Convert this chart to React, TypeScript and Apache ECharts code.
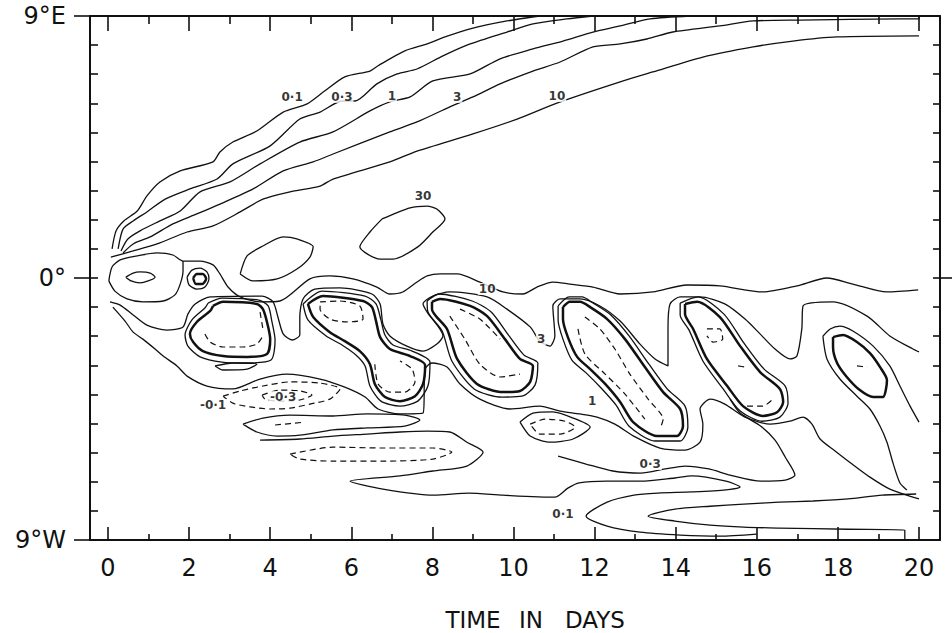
import React, { useEffect, useRef } from "react";
import * as echarts from "echarts";

// ---- axis ticks / labels ----
const majorDays = [0, 2, 4, 6, 8, 10, 12, 14, 16, 18, 20];
const minorDays = [1, 3, 5, 7, 9, 11, 13, 15, 17, 19];
const degreeTicks = [-8, -7, -6, -5, -4, -3, -2, -1, 0, 1, 2, 3, 4, 5, 6, 7, 8];
const latLabelValues = [-9, 0, 9];
const latLabelText: Record<string, string> = { "9": "9°E", "0": "0°", "-9": "9°W" };
const xTitleWords = ["TIME", "IN", "DAYS"];

// ---- contour lines [day, latitude] ----
// northern family (0.1, 0.3, 1, 3, 10)
const north01 = [[0.1,1.0],[0.2,1.62],[0.39,1.96],[0.72,2.3],[0.96,2.82],[1.28,3.3],[1.78,3.68],[2.59,3.99],[2.76,4.33],[3.08,4.67],[3.67,5.05],[4.32,5.7],[4.91,5.98],[5.35,6.43],[5.84,6.91],[6.46,7.11],[6.66,7.29],[7.32,7.8],[7.87,8.04],[8.31,8.28],[8.93,8.56],[9.84,8.83],[10.65,9.0]];
const north03 = [[0.25,1.0],[0.37,1.68],[0.62,1.96],[0.96,2.27],[1.41,2.71],[2.02,3.06],[2.69,3.4],[3.08,3.92],[4.0,4.54],[4.73,5.46],[5.23,5.7],[5.77,6.08],[6.09,6.08],[6.63,6.67],[7.13,7.01],[7.62,7.18],[8.26,7.63],[8.93,8.04],[9.84,8.45],[10.48,8.73],[11.32,8.9],[11.96,9.0]];
const north1 = [[0.32,0.93],[0.49,1.34],[0.79,1.62],[1.28,1.96],[1.78,2.3],[2.27,2.96],[3.01,3.3],[3.75,3.92],[4.73,4.67],[5.55,5.02],[6.46,5.74],[6.95,6.05],[7.45,6.22],[8.01,6.77],[8.93,7.01],[9.67,7.53],[10.48,7.87],[11.22,8.14],[11.96,8.45],[12.63,8.66],[13.37,8.9],[14.35,9.0]];
const north3 = [[0.37,0.86],[0.62,1.17],[1.04,1.41],[1.6,1.86],[2.19,2.2],[2.76,2.54],[3.58,3.06],[4.32,3.68],[5.06,3.99],[5.55,4.26],[6.95,5.02],[7.62,5.36],[8.43,5.88],[9.0,6.22],[9.67,6.67],[10.48,7.11],[11.15,7.42],[11.96,7.94],[12.63,8.04],[13.29,8.21],[13.93,8.45],[15.09,8.66],[15.91,8.83],[17.07,8.86],[19.53,8.9],[20.0,8.9],[20.0,9.0]];
const north10 = [[0.07,0.72],[0.62,0.93],[1.21,1.17],[1.95,1.58],[2.59,1.79],[3.26,2.27],[3.82,2.71],[4.49,2.96],[5.23,3.16],[5.55,3.4],[6.95,3.99],[7.62,4.36],[9.0,4.95],[10.09,5.46],[11.07,6.01],[12.63,6.74],[13.44,7.08],[14.67,7.59],[15.91,7.94],[16.89,8.14],[17.98,8.28],[20.0,8.32]];

// equatorial maxima
const ridge30a = [[3.26,0.14],[3.43,0.76],[3.82,1.1],[4.32,1.41],[4.66,1.34],[5.06,1.07],[4.98,0.72],[4.66,0.31],[4.17,-0.03],[3.58,-0.1],[3.26,0.14]];
const ridge30b = [[6.76,2.03],[7.45,2.41],[7.87,2.47],[8.11,2.37],[8.31,2.03],[8.01,1.58],[7.64,1.07],[7.03,0.65],[6.71,0.65],[6.21,1.07],[6.46,1.58],[6.76,2.03]];
const westEllipse = [[0.44,0.03],[0.62,0.17],[0.79,0.21],[1.04,0.17],[1.16,0.03],[0.99,-0.1],[0.79,-0.17],[0.57,-0.1],[0.44,0.03]];
const eyeOuter = [[1.95,0.03],[2.07,0.27],[2.27,0.34],[2.44,0.21],[2.49,-0.03],[2.39,-0.31],[2.19,-0.38],[2.0,-0.24],[1.95,0.03]];
const eyeInner = [[2.1,0.0],[2.19,0.14],[2.34,0.14],[2.42,-0.03],[2.32,-0.21],[2.17,-0.21],[2.1,0.0]];
const equator10 = [[0.02,-0.1],[0.1,0.38],[0.3,0.62],[0.72,0.76],[1.21,0.86],[1.6,0.79],[1.85,0.58],[2.27,0.58],[2.59,0.45],[2.76,0.14],[2.96,-0.31],[3.26,-0.65],[3.75,-0.82],[4.24,-0.79],[4.98,-0.03],[5.47,0.07],[6.04,-0.03],[6.63,-0.31],[6.95,-0.55],[7.27,-0.48],[7.62,-0.14],[7.87,0.07],[8.19,0.14],[8.61,0.14],[9.17,-0.14],[9.74,-0.48],[10.23,-0.55],[10.58,-0.31],[10.97,-0.14],[11.39,-0.21],[11.96,-0.31],[12.63,-0.55],[13.44,-0.48],[14.28,-0.24],[15.09,-0.27],[16.15,-0.48],[16.99,-0.27],[17.73,0.0],[18.37,-0.21],[19.21,-0.48],[19.98,-0.41]];
const equator10Loop = [[0.02,-0.1],[0.17,-0.45],[0.47,-0.72],[0.86,-0.82],[1.36,-0.79],[1.65,-0.58],[1.78,-0.21],[1.85,0.24],[1.85,0.58]];

// southern cells: dense boundaries
const cellA = [[2.59,-0.96],[2.84,-0.82],[3.67,-0.89],[3.82,-1.07],[3.92,-1.51],[4.0,-2.1],[3.92,-2.61],[3.43,-2.71],[2.84,-2.68],[2.34,-2.51],[2.1,-2.2],[2.02,-1.92],[2.19,-1.51],[2.52,-1.13],[2.59,-0.96]];
const cellB = [[4.93,-0.89],[5.3,-0.62],[6.29,-0.79],[6.51,-1.0],[6.61,-1.48],[6.71,-2.03],[6.95,-2.44],[7.45,-2.68],[7.82,-2.99],[7.77,-3.64],[7.57,-4.06],[7.2,-4.23],[6.83,-4.09],[6.58,-3.64],[6.46,-2.96],[6.21,-2.51],[5.84,-2.17],[5.47,-1.86],[5.06,-1.34],[4.93,-0.89]];
const cellC = [[7.99,-0.82],[8.19,-0.72],[8.93,-0.96],[9.35,-1.31],[9.79,-2.1],[10.16,-2.78],[10.48,-3.02],[10.41,-3.57],[10.16,-3.88],[9.74,-3.92],[9.1,-3.64],[8.61,-2.78],[8.36,-1.75],[7.99,-1.07],[7.99,-0.82]];
const cellD = [[11.22,-1.0],[11.39,-0.82],[11.64,-0.82],[11.89,-1.0],[12.31,-1.41],[12.75,-2.1],[13.24,-3.06],[13.69,-3.92],[14.11,-4.5],[14.18,-5.09],[14.03,-5.43],[13.54,-5.43],[12.95,-4.95],[12.63,-4.26],[12.26,-3.64],[11.89,-3.13],[11.57,-2.71],[11.34,-2.03],[11.22,-1.41],[11.22,-1.0]];
const cellE = [[14.23,-0.89],[14.53,-0.82],[15.09,-1.34],[15.59,-2.34],[16.08,-3.23],[16.57,-3.81],[16.65,-4.26],[16.5,-4.61],[16.15,-4.74],[15.66,-4.4],[15.27,-3.71],[14.77,-2.78],[14.43,-1.75],[14.23,-1.24],[14.23,-0.89]];
const cellF = [[17.88,-2.03],[18.13,-1.96],[18.47,-2.2],[18.79,-2.58],[19.04,-3.06],[19.21,-3.51],[19.11,-4.09],[18.87,-4.09],[18.54,-3.85],[18.22,-3.4],[17.98,-2.92],[17.88,-2.37],[17.88,-2.03]];
// companion lines just outside each dense boundary
const ringA = [[2.47,-0.86],[2.81,-0.69],[3.72,-0.76],[3.95,-0.96],[4.04,-1.48],[4.12,-2.13],[4.02,-2.82],[3.43,-2.92],[2.81,-2.89],[2.27,-2.71],[1.97,-2.34],[1.9,-1.96],[2.07,-1.44],[2.39,-1.03],[2.47,-0.86]];
const ringB = [[4.81,-0.89],[5.28,-0.45],[6.34,-0.62],[6.61,-0.89],[6.73,-1.44],[6.83,-1.96],[7.03,-2.3],[7.5,-2.51],[7.94,-2.89],[7.89,-3.71],[7.64,-4.23],[7.2,-4.4],[6.73,-4.23],[6.46,-3.71],[6.34,-3.02],[6.12,-2.65],[5.77,-2.3],[5.38,-1.99],[4.93,-1.44],[4.81,-0.89]];
const ringC = [[7.87,-0.79],[8.16,-0.55],[8.98,-0.79],[9.45,-1.17],[9.89,-1.99],[10.26,-2.65],[10.6,-2.92],[10.53,-3.68],[10.21,-4.06],[9.72,-4.09],[9.03,-3.81],[8.48,-2.85],[8.24,-1.82],[7.89,-1.17],[7.87,-0.79]];
const ringD = [[11.1,-0.96],[11.37,-0.65],[11.69,-0.65],[11.96,-0.86],[12.4,-1.27],[12.85,-1.99],[13.34,-2.96],[13.79,-3.81],[14.23,-4.4],[14.3,-5.12],[14.11,-5.6],[13.49,-5.6],[12.85,-5.09],[12.53,-4.37],[12.16,-3.78],[11.79,-3.26],[11.44,-2.82],[11.22,-2.1],[11.1,-1.44],[11.1,-0.96]];
const ringE = [[14.11,-0.86],[14.55,-0.65],[15.19,-1.24],[15.68,-2.23],[16.18,-3.13],[16.7,-3.71],[16.77,-4.3],[16.57,-4.78],[16.13,-4.92],[15.59,-4.57],[15.17,-3.81],[14.67,-2.85],[14.33,-1.79],[14.11,-1.27],[14.11,-0.86]];
const smallUnderA = [[2.64,-3.02],[3.08,-2.92],[3.67,-2.96],[3.43,-3.13],[2.84,-3.16],[2.64,-3.02]];
const cellFOuterTop = [[17.63,-2.0],[17.81,-1.75],[18.05,-1.65],[18.37,-1.82],[18.87,-2.34],[19.28,-3.02],[19.53,-3.71],[19.78,-4.4],[20.0,-4.95]];
const cellFOuterLeft = [[17.63,-2.0],[17.73,-2.78],[18.05,-3.47],[18.47,-4.06],[18.79,-4.5],[19.04,-5.09],[19.21,-5.64],[19.36,-6.36],[19.53,-7.04],[19.7,-7.28]];

// southern cells: dashed interiors
const dashA1 = [[2.39,-1.92],[2.52,-2.2],[2.84,-2.37],[3.33,-2.37],[3.67,-2.27],[3.82,-1.99]];
const dashA2 = [[3.75,-1.17],[3.82,-1.75]];
const dashB1 = [[5.23,-0.82],[5.72,-0.79],[6.21,-0.96],[6.29,-1.41],[5.89,-1.51],[5.47,-1.41],[5.23,-1.07],[5.23,-0.82]];
const dashB2 = [[6.58,-2.96],[6.66,-3.64],[6.95,-3.92],[7.32,-3.92],[7.57,-3.57],[7.5,-3.13],[7.2,-2.85]];
const dashC1 = [[8.43,-1.31],[8.8,-2.1],[9.17,-2.96],[9.67,-3.4],[10.16,-3.3]];
const dashC2 = [[8.68,-1.07],[9.17,-1.41],[9.67,-2.1]];
const dashD1 = [[11.76,-1.34],[12.13,-1.75],[12.5,-2.44],[12.87,-3.3],[13.32,-4.16],[13.69,-4.85],[13.61,-5.19]];
const dashD2 = [[11.59,-1.75],[11.76,-2.61],[12.26,-3.3],[12.75,-3.99],[13.24,-4.85]];
const dashE1 = [[14.77,-1.75],[15.09,-1.75],[15.16,-2.1],[14.92,-2.2],[14.77,-1.99]];
const dashE2 = [[15.54,-3.02],[15.71,-3.06]];
const dashE3 = [[15.76,-4.4],[16.15,-4.4],[16.4,-4.16]];
const dashF1 = [[18.47,-3.02],[18.72,-3.06]];

// southern wavy contours
const south3 = [[0.05,-0.82],[0.3,-0.93],[0.62,-1.27],[0.96,-1.62],[1.45,-1.79],[1.85,-1.68],[1.97,-1.24],[2.15,-0.89],[2.52,-0.65],[3.8,-0.62],[4.07,-0.82],[4.19,-1.34],[4.32,-1.92],[4.54,-2.13],[4.73,-1.96],[4.73,-1.34],[4.81,-0.72],[5.1,-0.38],[5.72,-0.34],[6.51,-0.55],[6.71,-0.89],[6.78,-1.58],[6.95,-1.99],[7.37,-2.34],[7.77,-2.51],[8.11,-2.27],[8.26,-1.99],[7.87,-1.17],[7.77,-0.89],[8.01,-0.62],[8.43,-0.48],[9.35,-0.65],[9.84,-1.07],[10.41,-1.68],[10.65,-2.17],[10.9,-2.34],[11.02,-1.99],[10.97,-0.96],[11.15,-0.72],[11.64,-0.72],[12.13,-0.96],[12.63,-1.48],[13.12,-2.27],[13.49,-2.78],[13.81,-3.02],[13.81,-1.75],[13.86,-0.89],[14.11,-0.65],[14.6,-0.65],[15.21,-0.89],[15.71,-1.41],[16.08,-1.92],[16.45,-2.44],[16.82,-2.78],[16.99,-2.68],[17.11,-1.75],[17.14,-0.96],[17.88,-0.82],[18.72,-1.31],[19.28,-1.99],[19.85,-2.44],[20.0,-2.54]];
const south1 = [[0.12,-1.0],[0.42,-1.48],[0.62,-1.86],[0.86,-2.1],[1.16,-2.44],[1.36,-2.68],[1.7,-3.02],[1.95,-3.37],[2.44,-3.71],[3.08,-3.81],[3.75,-3.47],[4.41,-3.3],[5.23,-3.47],[5.84,-3.75],[6.34,-4.09],[6.66,-4.5],[7.2,-4.67],[7.77,-4.64],[7.82,-3.13],[7.99,-2.92],[8.36,-3.06],[8.68,-3.64],[9.17,-4.16],[9.91,-4.5],[10.65,-4.4],[11.15,-4.57],[11.64,-4.67],[12.06,-4.78],[12.5,-5.02],[13.0,-5.46],[13.61,-5.84],[14.23,-5.91],[14.6,-5.64],[14.67,-5.02],[14.6,-4.5],[14.85,-4.16],[15.21,-4.33],[15.71,-4.78],[16.33,-5.02],[16.82,-4.92],[17.14,-4.78],[17.36,-5.02],[17.56,-5.53],[17.93,-5.94],[18.35,-6.39],[18.79,-6.84],[19.28,-7.25],[20.0,-7.59]];
const negOuter = [[2.84,-4.06],[3.26,-3.88],[3.82,-3.71],[4.49,-3.57],[5.23,-3.61],[5.72,-3.81],[5.47,-4.16],[4.98,-4.33],[4.49,-4.47],[4.0,-4.5],[3.5,-4.43],[3.08,-4.3],[2.84,-4.06]];
const negInner = [[3.8,-4.02],[4.24,-3.85],[4.73,-3.88],[5.03,-4.02],[4.73,-4.19],[4.24,-4.23],[3.87,-4.16],[3.8,-4.02]];
const tongueWest = [[3.33,-5.02],[3.82,-4.81],[4.49,-4.71],[5.55,-4.74],[6.39,-4.67],[7.32,-4.71],[7.69,-4.88],[7.32,-5.09],[6.39,-5.15],[5.55,-5.22],[4.73,-5.4],[4.17,-5.43],[3.67,-5.29],[3.33,-5.02]];
const tongueWestDash = [[4.12,-5.05],[4.86,-4.95]];
const long01 = [[3.75,-5.57],[4.73,-5.53],[5.55,-5.43],[6.39,-5.36],[7.2,-5.29],[7.87,-5.26],[8.43,-5.29],[8.85,-5.64],[9.25,-5.98],[8.85,-6.46],[8.01,-6.63],[7.2,-6.8],[5.97,-6.98],[6.78,-7.25],[8.04,-7.46],[8.9,-7.39],[9.74,-7.46],[11.02,-7.53],[11.34,-7.22],[11.62,-7.04],[12.28,-6.98],[13.14,-6.98],[13.98,-6.87],[14.4,-6.8],[15.24,-6.98],[15.59,-7.18],[15.24,-7.28],[14.4,-7.35],[13.56,-7.39],[12.97,-7.46],[12.31,-7.7],[11.79,-8.18],[12.31,-8.52],[13.12,-8.73],[14.11,-8.83],[15.09,-8.87],[16.0,-8.8]];
const longDash = [[4.49,-6.05],[5.55,-5.81],[6.78,-5.84],[8.01,-5.84],[8.48,-5.98],[8.01,-6.22],[6.78,-6.29],[5.55,-6.29],[4.73,-6.22],[4.49,-6.05]];
const south03 = [[11.1,-6.12],[11.79,-6.39],[12.45,-6.63],[13.14,-6.7],[13.74,-6.56],[14.23,-6.46],[14.82,-6.56],[15.34,-6.77],[16.1,-6.98],[16.7,-6.94],[16.94,-6.77],[16.7,-6.15],[16.45,-5.57],[16.1,-5.09],[15.59,-4.64],[15.34,-4.16]];
const innerTongue01 = [[19.93,-7.42],[19.09,-7.46],[18.25,-7.59],[17.39,-7.66],[16.55,-7.7],[15.68,-7.77],[14.85,-7.84],[13.98,-7.94],[13.32,-8.18],[13.98,-8.35],[14.85,-8.49],[15.68,-8.56],[16.55,-8.59],[18.25,-8.63],[19.65,-8.66],[19.65,-8.97]];
const smallLoop = [[10.16,-4.95],[10.48,-4.64],[10.97,-4.6],[11.47,-4.81],[11.89,-5.12],[11.47,-5.53],[10.9,-5.64],[10.41,-5.43],[10.16,-4.95]];
const smallLoopDash = [[10.41,-5.02],[10.78,-4.85],[11.27,-4.92],[11.52,-5.12],[11.15,-5.36],[10.65,-5.36],[10.41,-5.02]];

// contour value labels [day, latitude, text]
const contourLabels: [number, number, string][] = [
  [4.54, 6.22, "0·1"], [5.77, 6.22, "0·3"], [7.0, 6.25, "1"], [8.61, 6.22, "3"], [11.07, 6.25, "10"],
  [7.77, 2.82, "30"], [9.35, -0.38, "10"], [10.68, -2.1, "3"], [11.94, -4.23, "1"],
  [2.59, -4.36, "-0·1"], [4.32, -4.09, "-0·3"], [13.37, -6.39, "0·3"], [11.22, -8.11, "0·1"],
];

const INK = "#111";
const FONT = "DejaVu Sans";
const X_MIN = -0.444;
const X_MAX = 20.518;

const solidLines = [north01, north03, north1, north3, north10, ridge30a, ridge30b, westEllipse, eyeOuter, equator10, equator10Loop, smallUnderA, cellFOuterTop, cellFOuterLeft, south3, south1, tongueWest, long01, south03, innerTongue01, smallLoop, ringA, ringB, ringC, ringD, ringE];
const heavyLines = [eyeInner, cellA, cellB, cellC, cellD, cellE, cellF];
const dashedLines = [dashA1, dashA2, dashB1, dashB2, dashC1, dashC2, dashD1, dashD2, dashE1, dashE2, dashE3, dashF1, negOuter, negInner, tongueWestDash, longDash, smallLoopDash];

function lineSeries(data: number[][], width: number, dashed: boolean) {
  return {
    type: "line",
    data,
    xAxisIndex: 0,
    yAxisIndex: 0,
    symbol: "none",
    showSymbol: false,
    smooth: 0.25,
    silent: true,
    z: 2,
    lineStyle: { color: INK, width, type: dashed ? [6, 4] : "solid" },
  };
}

function xAxisDef(position: "top" | "bottom", ticks: number[], len: number, showLine: boolean, labels: boolean) {
  return {
    type: "value",
    position,
    min: X_MIN,
    max: X_MAX,
    axisLine: { show: showLine, onZero: false, lineStyle: { color: INK, width: 2 } },
    axisTick: { show: true, inside: true, length: len, customValues: ticks, lineStyle: { color: INK, width: 1.6 } },
    axisLabel: labels
      ? { show: true, customValues: ticks, margin: 16, fontSize: 24, color: INK, fontFamily: FONT }
      : { show: false },
    splitLine: { show: false },
  };
}

function yAxisDef(position: "left" | "right", ticks: number[], len: number, inside: boolean, showLine: boolean, labels: boolean) {
  return {
    type: "value",
    position,
    min: -9,
    max: 9,
    axisLine: { show: showLine, onZero: false, lineStyle: { color: INK, width: 2 } },
    axisTick: { show: true, inside, length: len, customValues: ticks, lineStyle: { color: INK, width: 1.6 } },
    axisLabel: labels
      ? {
          show: true,
          customValues: latLabelValues,
          margin: 24,
          fontSize: 24,
          color: INK,
          fontFamily: FONT,
          showMinLabel: true,
          showMaxLabel: true,
          formatter: (v: number) => latLabelText[String(v)] ?? "",
        }
      : { show: false },
    splitLine: { show: false },
  };
}

export default function App() {
  const ref = useRef<HTMLDivElement>(null);
  useEffect(() => {
    if (!ref.current) return;
    const chart = echarts.init(ref.current, null, { renderer: "svg" });
    const series: any[] = [
      ...solidLines.map((d) => lineSeries(d, 1.3, false)),
      ...heavyLines.map((d) => lineSeries(d, 2.5, false)),
      ...dashedLines.map((d) => lineSeries(d, 1.2, true)),
      {
        type: "scatter",
        xAxisIndex: 0,
        yAxisIndex: 0,
        silent: true,
        z: 5,
        symbolSize: 1,
        itemStyle: { color: "rgba(0,0,0,0)" },
        data: contourLabels.map(([x, y, t]) => ({ value: [x, y], name: t })),
        label: {
          show: true,
          position: "inside",
          formatter: "{b}",
          color: "#000",
          fontSize: 12,
          fontWeight: "bold",
          fontFamily: FONT,
          backgroundColor: "#fff",
          padding: [0, 1],
        },
      },
    ];
    const wordCenters = [473, 531, 595];
    chart.setOption({
      animation: false,
      backgroundColor: "#fff",
      grid: { left: 90, top: 16, width: 850, height: 524, containLabel: false },
      xAxis: [
        xAxisDef("bottom", majorDays, 13, true, true),
        xAxisDef("bottom", minorDays, 6, false, false),
        xAxisDef("top", majorDays, 15, true, false),
        xAxisDef("top", minorDays, 8, false, false),
      ],
      yAxis: [
        yAxisDef("left", degreeTicks, 8, true, true, false),
        yAxisDef("left", latLabelValues, 16, false, false, true),
        yAxisDef("right", degreeTicks, 7, true, true, false),
        yAxisDef("right", [0], 12, false, false, false),
      ],
      graphic: xTitleWords.map((w, i) => ({
        type: "text",
        x: wordCenters[i],
        y: 620,
        style: { text: w, fontSize: 23, fontFamily: FONT, fill: INK, textAlign: "center", textVerticalAlign: "middle" },
      })),
      series,
    });
    return () => chart.dispose();
  }, []);
  return <div ref={ref} style={{ position: "fixed", left: 0, top: 0, width: 952, height: 633 }} />;
}
